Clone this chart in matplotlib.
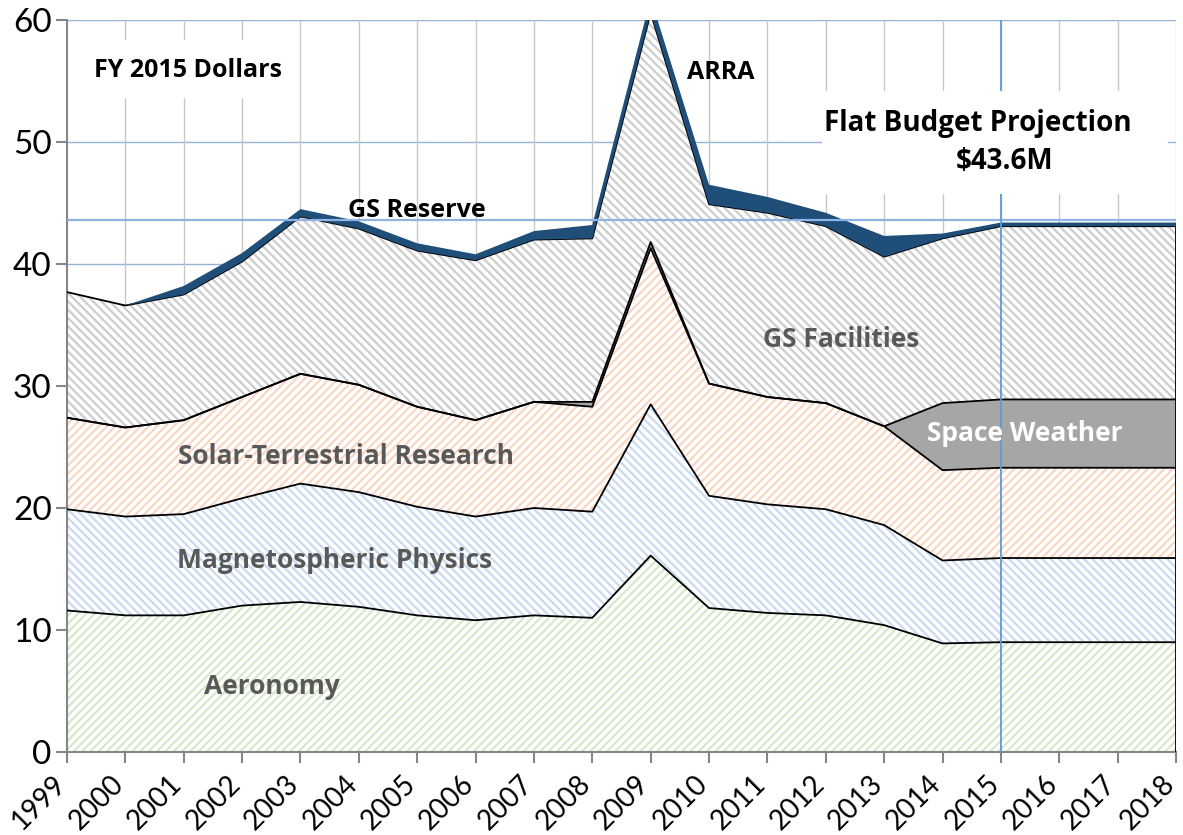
import numpy as np
import matplotlib
matplotlib.use("Agg")
import matplotlib.pyplot as plt
from matplotlib.patches import Rectangle

plt.rcParams['font.family'] = ['Lato', 'DejaVu Sans']
plt.rcParams['hatch.linewidth'] = 1.6

# budget by fiscal year, $M (FY 2015 dollars)
years = list(range(1999, 2019))
aeronomy = [11.6, 11.2, 11.2, 12.0, 12.3, 11.9, 11.2, 10.8, 11.2, 11.0,
            16.1, 11.8, 11.4, 11.2, 10.4, 8.9, 9.0, 9.0, 9.0, 9.0]
magnetospheric = [8.3, 8.1, 8.3, 8.8, 9.7, 9.4, 8.9, 8.5, 8.8, 8.7,
                  12.4, 9.2, 8.9, 8.7, 8.2, 6.8, 6.9, 6.9, 6.9, 6.9]
solar_terrestrial = [7.5, 7.3, 7.7, 8.3, 9.0, 8.8, 8.2, 7.9, 8.7, 8.6,
                     12.8, 9.2, 8.8, 8.7, 8.1, 7.4, 7.4, 7.4, 7.4, 7.4]
space_weather = [0, 0, 0, 0, 0, 0, 0, 0, 0, 0.4,
                 0.5, 0, 0, 0, 0, 5.5, 5.6, 5.6, 5.6, 5.6]
gs_facilities = [10.3, 10.0, 10.3, 11.1, 12.9, 12.8, 12.8, 13.1, 13.3, 13.4,
                 18.8, 14.7, 15.1, 14.5, 13.9, 13.5, 14.2, 14.2, 14.2, 14.2]
gs_reserve = [0, 0, 0.7, 0.7, 0.6, 0.6, 0.6, 0.5, 0.7, 1.1,
              0.6, 1.6, 1.3, 1.1, 1.7, 0.4, 0.3, 0.3, 0.3, 0.3]
arra = [0, 0, 0, 0, 0, 0, 0, 0, 0, 0,
        0.6, 0, 0, 0, 0, 0, 0, 0, 0, 0]
flat_budget = 43.6
projection_start = 2015

fig = plt.figure(figsize=(11.83, 8.35), dpi=100)
ax = fig.add_axes([0.0566, 0.0994, 0.9375, 0.8766])

x = np.array(years)
layers = [aeronomy, magnetospheric, solar_terrestrial, space_weather, gs_facilities, gs_reserve, arra]
tops = np.cumsum(np.array(layers, dtype=float), axis=0)
bottoms = np.vstack([np.zeros(len(years)), tops[:-1]])

# hatched programs: (layer index, hatch colour, hatch)
hatched = [(0, '#d6e8c9', '////'), (1, '#c8dbf2', '\\\\\\\\'),
           (2, '#fad6c2', '////'), (4, '#cdcdcd', '\\\\\\\\')]
for i, col, h in hatched:
    ax.fill_between(x, bottoms[i], tops[i], facecolor='white', edgecolor=col,
                    hatch=h, linewidth=0, zorder=2)
ax.fill_between(x, bottoms[3], tops[3], facecolor='#a6a6a6', linewidth=0, zorder=2)
for i in [0, 1, 2, 3, 4]:
    ax.plot(x, tops[i], color='black', lw=1.3, zorder=3)
ax.plot([x[-1], x[-1]], [0, tops[4][-1]], color='black', lw=1.3, zorder=3)
ax.fill_between(x, bottoms[5], tops[6], facecolor='#1f4e79', linewidth=0, zorder=3.5)

ax.set_xlim(1999, 2018)
ax.set_ylim(0, 60)
ax.set_xticks(years)
ax.set_xticklabels([str(y) for y in years], rotation=45, ha='right', va='baseline',
                   rotation_mode='anchor', fontsize=20)
ax.set_yticks(range(0, 61, 10))
ax.tick_params(axis='y', labelsize=24, length=8, color='#868686', width=1.5, pad=3)
ax.tick_params(axis='x', length=8, color='#868686', width=1.5, pad=16)
for s in ['top', 'right']:
    ax.spines[s].set_visible(False)
for s in ['left', 'bottom']:
    ax.spines[s].set_color('#868686')
    ax.spines[s].set_linewidth(1.5)

for y in range(10, 61, 10):
    ax.axhline(y, color='#95b3d7', lw=1, zorder=0)
for yr in years[1:]:
    ax.axvline(yr, color='#c8c8c8', lw=1, zorder=0)

ax.axhline(flat_budget, color='#8db4e2', lw=1.6, zorder=4)
ax.axvline(projection_start, color='#5b9bd5', lw=1.3, zorder=4)

# white boxes behind the notes
ax.add_patch(Rectangle((1999.05, 53.6), 3.77, 4.75, facecolor='white', edgecolor='none', zorder=5))
ax.add_patch(Rectangle((2011.94, 45.7), 5.92, 8.45, facecolor='white', edgecolor='none', zorder=5))

bold = dict(fontweight='bold', ha='center', va='center', zorder=6, family='Open Sans')
ax.text(2001.07, 55.9, 'FY 2015 Dollars', fontsize=18, color='black', **bold)
ax.text(2010.2, 55.7, 'ARRA', fontsize=18, color='black', **bold)
ax.text(2005.0, 44.4, 'GS Reserve', fontsize=18, color='black', **bold)
ax.text(2014.6, 51.5, 'Flat Budget Projection', fontsize=20, color='black', **bold)
ax.text(2015.07, 48.4, '$43.6M', fontsize=20, color='black', **bold)

grey = '#595959'
ax.text(2012.26, 33.8, 'GS Facilities', fontsize=19, color=grey, **bold)
ax.text(2015.41, 26.1, 'Space Weather', fontsize=19, color='white', **bold)
ax.text(2003.78, 24.2, 'Solar-Terrestrial Research', fontsize=19, color=grey, **bold)
ax.text(2003.59, 15.66, 'Magnetospheric Physics', fontsize=19, color=grey, **bold)
ax.text(2002.51, 5.33, 'Aeronomy', fontsize=19, color=grey, **bold)

fig.savefig('out.png', dpi=100)
